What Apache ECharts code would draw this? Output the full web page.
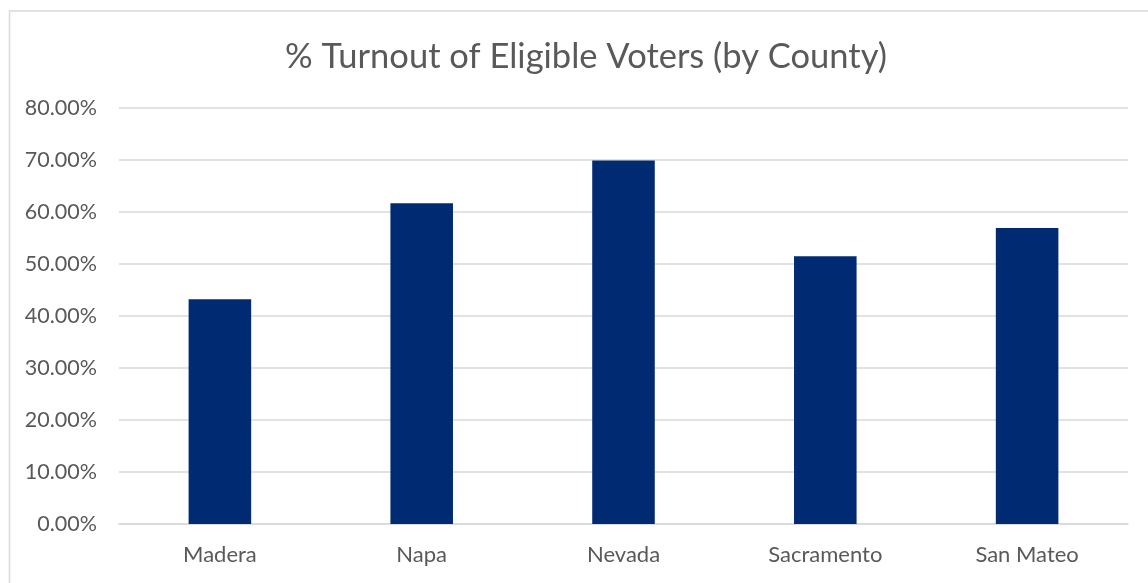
<!DOCTYPE html>
<html>
<head>
<meta charset="utf-8">
<script src="https://cdn.jsdelivr.net/npm/echarts@6/dist/echarts.min.js"></script>
<style>html,body{margin:0;padding:0;background:#fff}#c{width:1148px;height:583px}</style>
</head>
<body>
<div id="c"></div>
<script>
const titleText = '% Turnout of Eligible Voters (by County)';
const counties = ['Madera', 'Napa', 'Nevada', 'Sacramento', 'San Mateo'];
const turnout = [0.432, 0.617, 0.699, 0.515, 0.569];
const yTicks = [0, 0.1, 0.2, 0.3, 0.4, 0.5, 0.6, 0.7, 0.8];

const FONT = 'Lato';
const chart = echarts.init(document.getElementById('c'), null, {renderer: 'canvas'});
chart.setOption({
  animation: false,
  backgroundColor: '#ffffff',
  graphic: [{
    type: 'rect', left: 7, top: 8.5, z: -1,
    shape: {x: 0, y: 0, width: 1200, height: 620},
    style: {fill: 'none', stroke: '#d9d9d9', lineWidth: 1.5}
  }],
  title: {
    text: titleText, left: 581, top: 34, textAlign: 'center',
    textStyle: {fontFamily: FONT, fontSize: 34.5, fontWeight: 'normal', color: '#595959'}
  },
  grid: {left: 119, right: 20, top: 108, bottom: 59, containLabel: false},
  xAxis: {
    type: 'category', data: counties,
    axisLine: {lineStyle: {color: '#d9d9d9', width: 1.5}},
    axisTick: {show: false},
    axisLabel: {fontFamily: FONT, fontSize: 22, color: '#595959', margin: 20}
  },
  yAxis: {
    type: 'value', min: yTicks[0], max: yTicks[yTicks.length - 1], interval: 0.1,
    axisLine: {show: false}, axisTick: {show: false},
    splitLine: {lineStyle: {color: '#d9d9d9', width: 1.5}},
    axisLabel: {fontFamily: FONT, fontSize: 21.5, color: '#595959', margin: 22,
      formatter: v => (v * 100).toFixed(2) + '%'}
  },
  series: [{
    type: 'bar', data: turnout, barWidth: '31%',
    itemStyle: {color: '#002B73'}
  }]
});
</script>
</body>
</html>
